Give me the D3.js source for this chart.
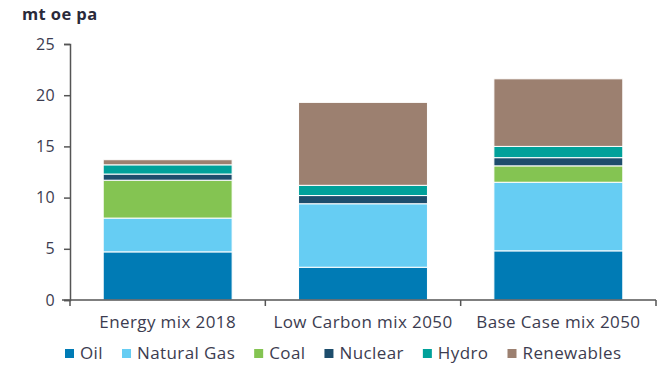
<!DOCTYPE html>
<html>
<head>
<meta charset="utf-8">
<script src="https://cdn.jsdelivr.net/npm/d3@7"></script>
<style>
  body { margin: 0; background: #fff; }
  svg text { font-family: "Open Sans", Lato, sans-serif; letter-spacing: 0.4px; }
</style>
</head>
<body>
<svg id="chart" width="665" height="365"></svg>
<script>
// DATA
const categories = ["Energy mix 2018", "Low Carbon mix 2050", "Base Case mix 2050"]
const seriesNames = ["Oil", "Natural Gas", "Coal", "Nuclear", "Hydro", "Renewables"]
const oil = [4.7, 3.2, 4.8]
const naturalGas = [3.3, 6.2, 6.7]
const coal = [3.7, 0, 1.6]
const nuclear = [0.6, 0.8, 0.8]
const hydro = [0.9, 1.0, 1.1]
const renewables = [0.5, 8.1, 6.6]
const yTicks = [0, 5, 10, 15, 20, 25]

const colors = ["#007bb5", "#66cdf3", "#84c452", "#1d4d6c", "#00a19a", "#9c8070"]
const allSeries = [oil, naturalGas, coal, nuclear, hydro, renewables]

let rows = categories.map((c, i) => {
    let row = {label: c}
    seriesNames.forEach((s, j) => { row[s] = allSeries[j][i] })
    return row
})

let stacked = d3.stack().keys(seriesNames)(rows)

let margins = {top: 44, bottom: 65, left: 70, right: 9}
let svgWidth = 665 - margins.left - margins.right
let svgHeight = 365 - margins.top - margins.bottom

let x = d3.scaleBand().domain(categories).range([0, svgWidth]).paddingInner(0.34).paddingOuter(0.17)
let y = d3.scaleLinear().domain([0, 25]).range([svgHeight, 0])

let svg = d3.select("#chart")
let chart = svg.append("g").attr("transform", `translate(${margins.left},${margins.top})`)

// BARS
chart.selectAll(".layer")
    .data(stacked)
    .enter()
    .append("g")
    .attr("fill", (d, i) => colors[i])
    .selectAll("rect")
    .data(d => d.map((v, i) => ({v: v, label: categories[i]})))
    .enter()
    .append("rect")
    .attr("x", d => x(d.label))
    .attr("width", x.bandwidth())
    .attr("y", d => y(d.v[1]))
    .attr("height", d => Math.max(0, y(d.v[0]) - y(d.v[1])))
    .attr("stroke", "#fff")
    .attr("stroke-width", d => (d.v[1] - d.v[0]) > 0 ? 1 : 0)

// Y AXIS
let yAxis = chart.append("g")
    .call(d3.axisLeft(y).tickValues(yTicks).tickSize(6).tickPadding(9))
yAxis.select(".domain").attr("stroke", "#555").attr("stroke-width", 1.5)
yAxis.selectAll(".tick line").attr("stroke", "#555").attr("stroke-width", 1.5)
yAxis.selectAll("text").attr("font-size", 16).attr("fill", "#3c3c50")

// X AXIS
let step = x.step()
let xAxis = chart.append("g").attr("transform", `translate(0,${svgHeight})`)
xAxis.append("line")
    .attr("x1", -8).attr("x2", svgWidth)
    .attr("stroke", "#555").attr("stroke-width", 1.5)
let bounds = [0].concat(categories.map(c => x(c) + x.bandwidth() + (step - x.bandwidth()) / 2))
xAxis.selectAll(".xtick")
    .data(bounds)
    .enter()
    .append("line")
    .attr("x1", d => d).attr("x2", d => d)
    .attr("y1", 0).attr("y2", 6)
    .attr("stroke", "#555").attr("stroke-width", 1.5)
xAxis.selectAll(".xlabel")
    .data(categories)
    .enter()
    .append("text")
    .attr("x", d => x(d) + x.bandwidth() / 2)
    .attr("y", 28)
    .attr("text-anchor", "middle")
    .attr("font-size", 17)
    .attr("fill", "#3c3c50")
    .text(d => d)

// TITLE
svg.append("text")
    .attr("x", 22).attr("y", 20)
    .attr("font-size", 16.5)
    .attr("font-weight", "bold")
    .attr("fill", "#2a2a3a")
    .text("mt oe pa")

// LEGEND
let legend = svg.append("g").attr("transform", "translate(65,359)")
let lx = 0
seriesNames.forEach((s, i) => {
    let item = legend.append("g").attr("transform", `translate(${lx},0)`)
    item.append("rect").attr("x", 0).attr("y", -10).attr("width", 9).attr("height", 9).attr("fill", colors[i])
    let t = item.append("text").attr("x", 15).attr("y", 0)
        .attr("font-size", 17).attr("fill", "#3c3c50").text(s)
    lx += 15 + t.node().getComputedTextLength() + 19
})
</script>
</body>
</html>
